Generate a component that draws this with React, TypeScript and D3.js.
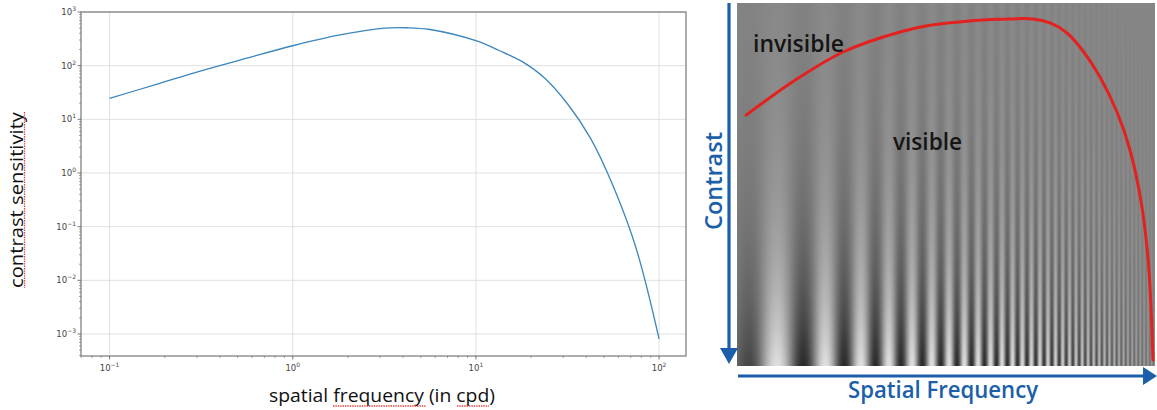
import React from 'react';
import * as d3 from 'd3';

// ---- Left chart: contrast sensitivity function (log-log) ----
const freqCpd = [0.1, 0.178, 0.316, 0.562, 1, 1.78, 3.16, 4.22, 5.62, 10, 13.3, 17.8, 23.7, 31.6, 42.2, 56.2, 75, 100];
const sensitivity = [24.7, 44.2, 80.2, 138, 235, 370, 501, 509, 472, 292, 194, 120, 58.9, 19.5, 4.46, 0.565, 0.0392, 0.00081];
const xTickExps = [-1, 0, 1, 2];
const yTickExps = [-3, -2, -1, 0, 1, 2, 3];
const xLabel = 'spatial frequency (in cpd)';
const yLabel = 'contrast sensitivity';

// ---- Right illustration: threshold curve over a Campbell-Robson grating ----
const thresholdFreq = [0.022, 0.136, 0.254, 0.39, 0.47, 0.55, 0.63, 0.708, 0.749, 0.7895, 0.8278, 0.8684, 0.9091, 0.9402, 0.9665, 0.9833, 0.9904, 0.9952];
const thresholdContrast = [0.309, 0.215, 0.135, 0.08, 0.06, 0.05, 0.045, 0.044, 0.055, 0.0826, 0.1322, 0.2039, 0.3003, 0.405, 0.5455, 0.7025, 0.8375, 0.9835];
const regionLabels = ['invisible', 'visible'];
const axisNames = ['Contrast', 'Spatial Frequency'];

const W = 1157;
const H = 410;
const plot = { left: 81, right: 686, top: 12, bottom: 356 };
const grating = { x0: 737, x1: 1155, y0: 3, y1: 366 };
const BLUE = '#1b5ea9';

const x = d3.scaleLog().domain([Math.pow(10, -1.156), Math.pow(10, 2.147)]).range([plot.left, plot.right]);
const y = d3.scaleLog().domain([Math.pow(10, -3.41), 1000]).range([plot.bottom, plot.top]);

const gx = d3.scaleLinear().domain([0, 1]).range([grating.x0, grating.x1]);
const gy = d3.scaleLinear().domain([0, 1]).range([grating.y0, grating.y1]);

const csfLine = d3
  .line<number>()
  .x((_, i) => x(freqCpd[i]))
  .y((d) => y(d))
  .curve(d3.curveCatmullRom.alpha(0.5));

const thresholdLine = d3
  .line<number>()
  .x((_, i) => gx(thresholdFreq[i]))
  .y((d) => gy(d))
  .curve(d3.curveCatmullRom.alpha(0.5));

function minorTicks(lo: number, hi: number, domain: number[]) {
  const out: number[] = [];
  for (let e = lo; e <= hi; e++) {
    for (let m = 2; m <= 9; m++) {
      const v = m * Math.pow(10, e);
      if (v >= domain[0] && v <= domain[1]) out.push(v);
    }
  }
  return out;
}

const xMinor = minorTicks(-2, 2, x.domain());
const yMinor = minorTicks(-4, 2, y.domain());

function expText(e: number) {
  return e < 0 ? '\u2212' + Math.abs(e) : String(e);
}

// grating column shading (Campbell-Robson style chirp)
const cols = d3.range(grating.x0, grating.x1);
function shade(px: number) {
  const xc = px + 0.5;
  const L = 135;
  const p0 = 58;
  const f = (1 / p0) * Math.exp((xc - 777) / L);
  const cyc = (L / p0) * (Math.exp((xc - 777) / L) - 1);
  const box = Math.abs(Math.sin(Math.PI * f) / (Math.PI * f));
  const edge = Math.min(1, 0.45 + (xc - grating.x0) / 40);
  const att = (edge * box) / (1 + Math.pow(f / 0.2, 4));
  const v = 0.52 + 0.36 * att * Math.cos(2 * Math.PI * cyc);
  const c = Math.round(Math.max(0, Math.min(1, v)) * 255);
  return d3.rgb(c, c, c).formatHex();
}
const MEAN_GRAY = d3.rgb(133, 133, 133).formatHex();
const fadeStops = d3.range(0, 1.0001, 0.05).map((t) => ({
  t,
  o: 1 - Math.exp((-(1 - t) * (grating.y1 - grating.y0)) / 110),
}));

function squiggle(x1: number, x2: number, yy: number) {
  return <line x1={x1} x2={x2} y1={yy} y2={yy} stroke="#e0403a" strokeWidth={1.3} strokeDasharray="1.4,1" />;
}

export default function App() {
  return (
    <svg
      width={W}
      height={H}
      viewBox={`0 0 ${W} ${H}`}
      style={{ position: 'absolute', left: 0, top: 0, background: '#fff' }}
      fontFamily="'DejaVu Sans', sans-serif"
    >
      <rect x={0} y={0} width={W} height={H} fill="#fff" />

      {/* ---------- Left plot ---------- */}
      <g>
        {xTickExps.map((e) => (
          <line key={'gx' + e} x1={x(Math.pow(10, e))} x2={x(Math.pow(10, e))} y1={plot.top} y2={plot.bottom} stroke="#dcdcdc" strokeWidth={0.9} />
        ))}
        {yTickExps.map((e) => (
          <line key={'gy' + e} x1={plot.left} x2={plot.right} y1={y(Math.pow(10, e))} y2={y(Math.pow(10, e))} stroke="#dcdcdc" strokeWidth={0.9} />
        ))}

        <path d={csfLine(sensitivity) || ''} fill="none" stroke="#3b86bd" strokeWidth={1.3} />

        <rect x={plot.left} y={plot.top} width={plot.right - plot.left} height={plot.bottom - plot.top} fill="none" stroke="#8a8a8a" strokeWidth={1.4} />

        {/* x ticks */}
        {xTickExps.map((e) => {
          const px = x(Math.pow(10, e));
          return (
            <g key={'xt' + e}>
              <line x1={px} x2={px} y1={plot.bottom} y2={plot.bottom + 3.5} stroke="#555" strokeWidth={0.8} />
              <text x={px} y={plot.bottom + 15} textAnchor="middle" fontSize={8.5} fill="#444">
                10
                <tspan dy={-4} fontSize={6}>
                  {expText(e)}
                </tspan>
              </text>
            </g>
          );
        })}
        {xMinor.map((v, i) => (
          <line key={'xm' + i} x1={x(v)} x2={x(v)} y1={plot.bottom} y2={plot.bottom + 2} stroke="#666" strokeWidth={0.6} />
        ))}

        {/* y ticks */}
        {yTickExps.map((e) => {
          const py = y(Math.pow(10, e));
          return (
            <g key={'yt' + e}>
              <line x1={plot.left - 3.5} x2={plot.left} y1={py} y2={py} stroke="#555" strokeWidth={0.8} />
              <text x={plot.left - 5} y={py + 3} textAnchor="end" fontSize={8.5} fill="#444">
                10
                <tspan dy={-4} fontSize={6}>
                  {expText(e)}
                </tspan>
              </text>
            </g>
          );
        })}
        {yMinor.map((v, i) => (
          <line key={'ym' + i} x1={plot.left - 2} x2={plot.left} y1={y(v)} y2={y(v)} stroke="#666" strokeWidth={0.6} />
        ))}

        {/* axis labels */}
        <text
          x={382}
          y={402}
          textAnchor="middle"
          fontSize={18}
          fontFamily="'Open Sans', sans-serif"
          fill="#111"
          textLength={226}
          lengthAdjust="spacingAndGlyphs"
        >
          {xLabel}
        </text>
        {squiggle(333, 426, 406)}
        {squiggle(457, 489, 406)}

        <text
          transform="translate(22.5,200) rotate(-90)"
          textAnchor="middle"
          fontSize={18}
          fontFamily="'Open Sans', sans-serif"
          fill="#111"
          textLength={176}
          lengthAdjust="spacingAndGlyphs"
        >
          {yLabel}
        </text>
        <line x1={24.5} x2={24.5} y1={112} y2={288} stroke="#e0403a" strokeWidth={1.3} strokeDasharray="1.4,1" />
      </g>

      {/* ---------- Right illustration ---------- */}
      <defs>
        <linearGradient id="fade" x1="0" y1="0" x2="0" y2="1">
          {fadeStops.map((s, i) => (
            <stop key={i} offset={s.t} stopColor={MEAN_GRAY} stopOpacity={s.o} />
          ))}
        </linearGradient>
      </defs>
      <g shapeRendering="crispEdges">
        {cols.map((px) => (
          <rect key={px} x={px} y={grating.y0} width={1.02} height={grating.y1 - grating.y0} fill={shade(px)} />
        ))}
      </g>
      <rect x={grating.x0} y={grating.y0} width={grating.x1 - grating.x0} height={grating.y1 - grating.y0} fill="url(#fade)" />

      <path d={thresholdLine(thresholdContrast) || ''} fill="none" stroke="#e3211f" strokeWidth={3} strokeLinecap="round" />

      <text x={753} y={52} fontSize={24} fontWeight={600} fontFamily="'Open Sans', sans-serif" fill="#151515" textLength={91} lengthAdjust="spacingAndGlyphs">
        {regionLabels[0]}
      </text>
      <text x={893} y={150} fontSize={24} fontWeight={600} fontFamily="'Open Sans', sans-serif" fill="#151515" textLength={69} lengthAdjust="spacingAndGlyphs">
        {regionLabels[1]}
      </text>

      {/* arrows */}
      <line x1={729} x2={729} y1={3} y2={350} stroke={BLUE} strokeWidth={3.2} />
      <polygon points="720,348 738,348 729,364" fill={BLUE} />
      <line x1={738} x2={1145} y1={376} y2={376} stroke={BLUE} strokeWidth={3.2} />
      <polygon points="1143,367 1143,385 1157,376" fill={BLUE} />

      <text
        transform="translate(722,181) rotate(-90)"
        textAnchor="middle"
        fontSize={24}
        fontWeight={600}
        fontFamily="'Open Sans', sans-serif"
        fill={BLUE}
        textLength={98}
        lengthAdjust="spacingAndGlyphs"
      >
        {axisNames[0]}
      </text>
      <text
        x={943}
        y={398}
        textAnchor="middle"
        fontSize={24}
        fontWeight={600}
        fontFamily="'Open Sans', sans-serif"
        fill={BLUE}
        textLength={190}
        lengthAdjust="spacingAndGlyphs"
      >
        {axisNames[1]}
      </text>
    </svg>
  );
}
